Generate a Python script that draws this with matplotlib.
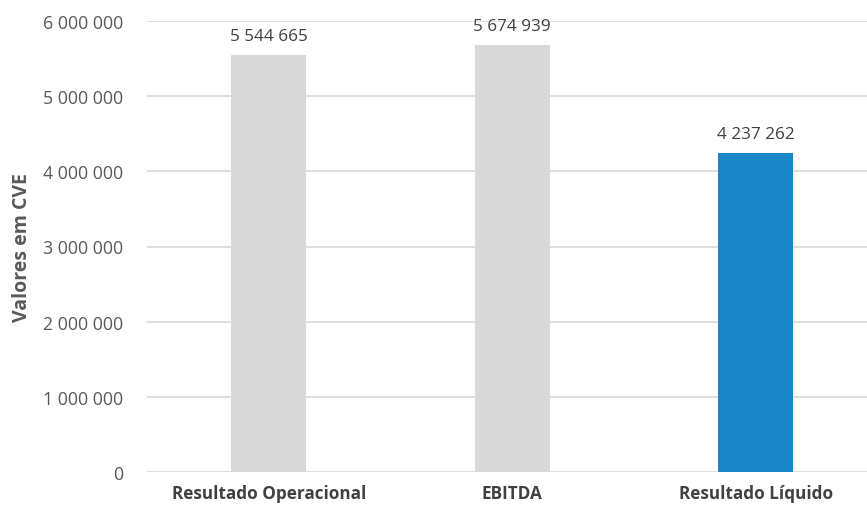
import numpy as np
import matplotlib.pyplot as plt
from matplotlib.ticker import FuncFormatter

categories = ['Resultado Operacional', 'EBITDA', 'Resultado Líquido']
values = [5544665, 5674939, 4237262]
colors = ['#d9d9d9', '#d9d9d9', '#1a86c7']
yticks = [0, 1000000, 2000000, 3000000, 4000000, 5000000, 6000000]

def fmt(v, pos=None):
    return '{:,}'.format(int(v)).replace(',', ' ')

plt.rcParams['font.family'] = ['Open Sans', 'DejaVu Sans']

fig = plt.figure(figsize=(8.67, 5.10), dpi=100)
ax = fig.add_axes([147/867, 37/510, 720/867, 451/510])

x = np.arange(len(categories))
ax.bar(x, values, width=0.31, color=colors, zorder=3)
for xi, v in zip(x, values):
    ax.text(xi, v + 150000, fmt(v), ha='center', va='bottom', fontsize=12.3, color='#404040')

ax.set_xlim(-0.5, -0.5 + 720/243.5)
ax.set_ylim(0, 6000000)
ax.set_yticks(yticks)
ax.yaxis.set_major_formatter(FuncFormatter(fmt))
ax.grid(axis='y', color='#d9d9d9', linewidth=1.2, zorder=0)
ax.set_xticks(x)
ax.set_xticklabels(categories, fontsize=12.3, fontweight='bold', color='#404040')
ax.tick_params(axis='y', labelsize=12.8, labelcolor='#595959', length=0, pad=17)
ax.tick_params(axis='x', length=0, pad=9)
for s in ax.spines.values():
    s.set_visible(False)
ax.set_ylabel('Valores em CVE', fontsize=14, fontweight='bold', color='#595959')
ax.yaxis.set_label_coords(-0.16, 0.5)

fig.savefig('out.png', dpi=100)
